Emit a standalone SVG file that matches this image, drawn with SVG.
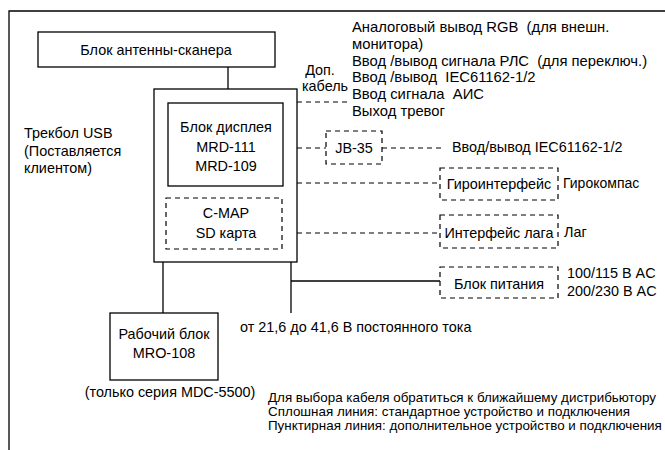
<svg xmlns="http://www.w3.org/2000/svg" width="665" height="450" viewBox="0 0 665 450">
<style>
text{font-family:"Liberation Sans",Arial,sans-serif;font-size:14.4px;fill:#000}
.c{text-anchor:middle}
.s{font-size:13.4px}
.r{font-size:14.8px;white-space:pre}
.box{fill:#fff;stroke:#000;stroke-width:1.3}
.dbox{fill:#fff;stroke:#000;stroke-width:1.2;stroke-dasharray:5,4}
.ln{stroke:#000;stroke-width:1.3;fill:none}
.dl{stroke:#000;stroke-width:1.2;fill:none;stroke-dasharray:5,4}
</style>
<rect width="665" height="450" fill="#fff"/>
<g id="frame"><path class="ln" d="M9,450 V11 H665"/></g>
<g id="connectors">
<path class="ln" d="M228,67 V89"/>
<path class="ln" d="M163,262 V313"/>
<path class="ln" d="M291,262 V313"/>
<path class="ln" d="M291,281 H440"/>
<path class="dl" d="M297,102 H350"/>
<path class="dl" d="M297,148 H326"/>
<path class="dl" d="M382,148 H442"/>
<path class="dl" d="M297,183 H440"/>
<path class="dl" d="M297,233 H440"/>
</g>
<g id="antenna"><rect class="box" x="38" y="32" width="237" height="35"/><text class="c" x="156" y="55">Блок антенны-сканера</text></g>
<g id="display-outer"><rect class="box" x="154" y="89" width="143" height="173"/></g>
<g id="display"><rect class="box" x="168" y="103" width="115" height="83"/>
<text class="c" x="226" y="132">Блок дисплея</text><text class="c" x="226" y="151.500">MRD-111</text><text class="c" x="226" y="171">MRD-109</text></g>
<g id="cmap"><rect class="dbox" x="166" y="198" width="116" height="51"/>
<text class="c" x="226" y="218">C-MAP</text><text class="c" x="226" y="238">SD карта</text></g>
<g id="trackball"><text x="24" y="138">Трекбол USB</text><text x="24" y="155.500">(Поставляется</text><text x="24" y="173">клиентом)</text></g>
<g id="mro"><rect class="box" x="110" y="313" width="108" height="67"/>
<text class="c" x="164" y="339">Рабочий блок</text><text class="c" x="164" y="358">MRO-108</text>
<text class="c" x="170" y="397">(только серия MDC-5500)</text></g>
<g id="dc"><text x="240" y="332">от 21,6 до 41,6 В постоянного тока</text></g>
<g id="extcable"><text class="c" x="320" y="75">Доп.</text><text class="c" x="325" y="91">кабель</text>
<text class="r" x="352" y="32">Аналоговый вывод RGB  (для внешн.</text>
<text class="r" x="352" y="48.500">монитора)</text>
<text class="r" x="352" y="65.500">Ввод /вывод сигнала РЛС  (для переключ.)</text>
<text class="r" x="352" y="82">Ввод /вывод  IEC61162-1/2</text>
<text class="r" x="352" y="99">Ввод сигнала  АИС</text>
<text class="r" x="352" y="115.500">Выход тревог</text></g>
<g id="jb35"><rect class="dbox" x="326" y="131" width="56" height="33"/><text class="c" x="354" y="152.500">JB-35</text>
<text x="452" y="152">Ввод/вывод IEC61162-1/2</text></g>
<g id="gyro"><rect class="dbox" x="440" y="168" width="118" height="32"/><text class="c" x="499" y="189">Гироинтерфейс</text>
<text x="563" y="188" style="font-size:14px">Гирокомпас</text></g>
<g id="log"><rect class="dbox" x="440" y="215" width="118" height="33"/><text class="c" x="499" y="238">Интерфейс лага</text>
<text x="564" y="237">Лаг</text></g>
<g id="power"><rect class="dbox" x="440" y="267" width="118" height="31"/><text class="c" x="499" y="289">Блок питания</text>
<text x="567" y="278">100/115 В AC</text><text x="567" y="296">200/230 В AC</text></g>
<g id="notes">
<text class="s" x="268" y="402">Для выбора кабеля обратиться к ближайшему дистрибьютору</text>
<text class="s" x="268" y="416">Сплошная линия: стандартное устройство и подключения</text>
<text class="s" x="268" y="429.500">Пунктирная линия: дополнительное устройство и подключения</text></g>
</svg>
